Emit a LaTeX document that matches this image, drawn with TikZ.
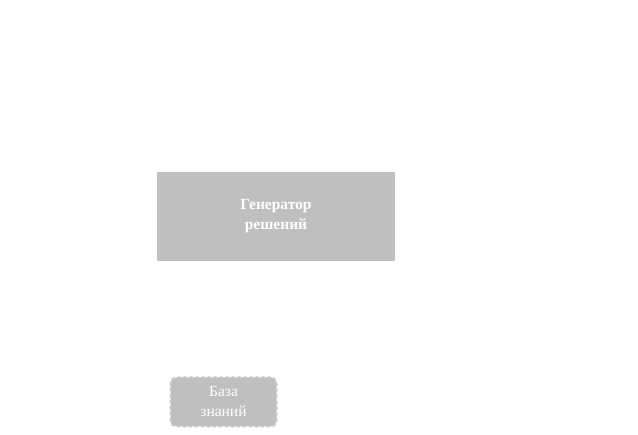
\documentclass[tikz,border=0pt]{standalone}
\usepackage{fontspec}
\setmainfont{Liberation Serif}
\begin{document}
\begin{tikzpicture}[x=1pt,y=-1pt,
  genbox/.style={fill=gray75,draw=none,text=white,font=\fontsize{15.5}{20}\selectfont\bfseries,align=center,inner sep=0pt},
  kbbox/.style={fill=gray75,draw=gray80,line width=2pt,dash pattern=on 3pt off 3pt,rounded corners=6pt,text=white,font=\fontsize{15.5}{20}\selectfont,align=center,inner sep=0pt}]
\definecolor{gray75}{HTML}{BFBFBF}
\definecolor{gray80}{HTML}{C8C8C8}
\useasboundingbox (0,0) rectangle (638,435);
\fill[white] (0,0) rectangle (638,435);
\node[genbox,minimum width=238pt,minimum height=89pt] (gen) at (276,216.5) {Генератор\\решений};
\node[kbbox,minimum width=106pt,minimum height=49pt] (kb) at (223.5,402) {База\\знаний};
\end{tikzpicture}
\end{document}
